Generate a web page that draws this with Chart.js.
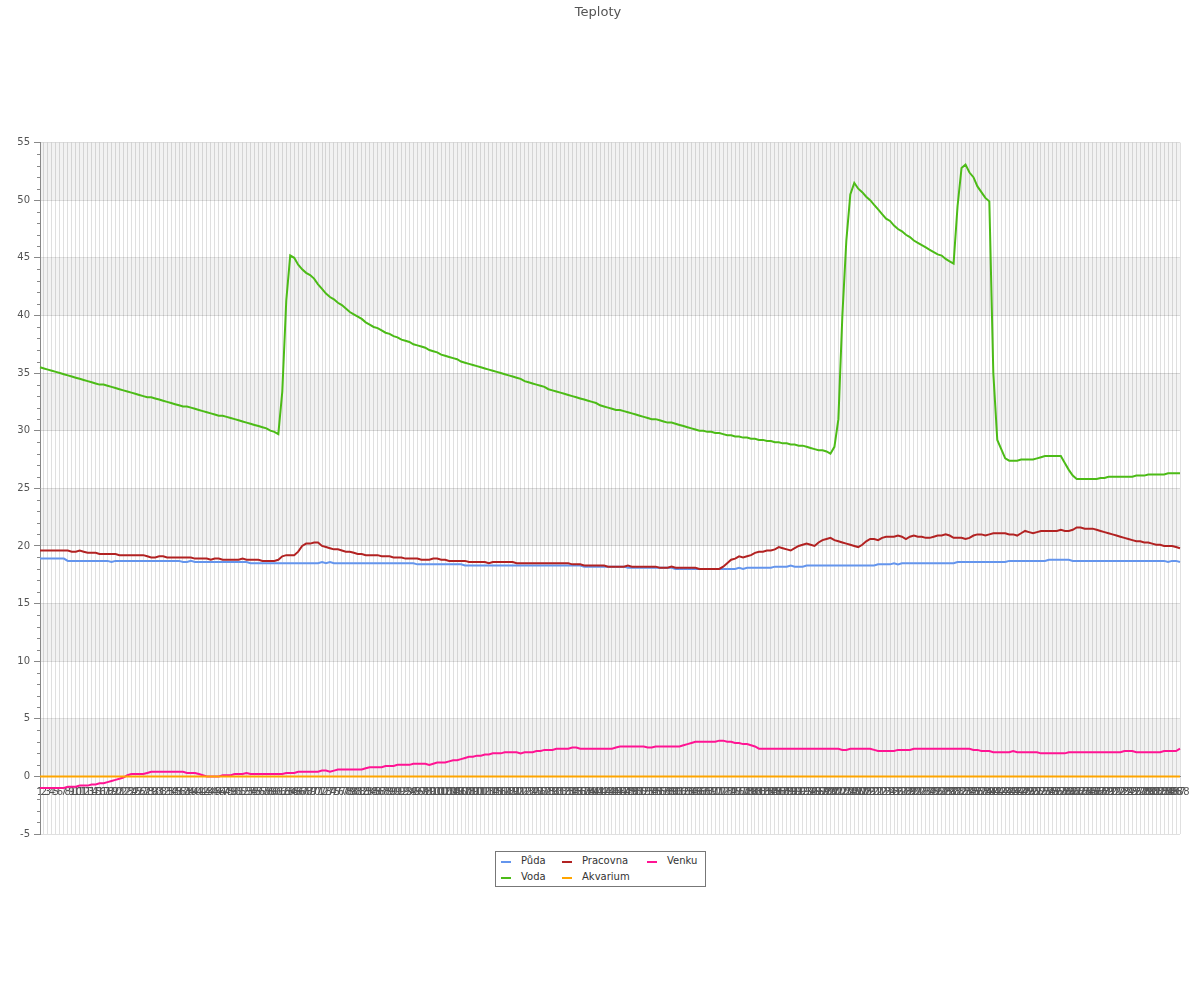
<!DOCTYPE html>
<html>
<head>
<meta charset="utf-8">
<title>Teploty</title>
<script src="https://cdn.jsdelivr.net/npm/chart.js@4.4.1/dist/chart.umd.min.js"></script>
<style>
	body { margin: 0; background: #fff; font-family: "DejaVu Sans", sans-serif; }
	#wrap { position: relative; width: 1200px; height: 1000px; }
	#chart { position: absolute; left: 0; top: 0; }
	#legend {
		position: absolute; left: 495px; top: 851px;
		border: 1px solid #777; background: #fff;
		padding: 1px 8px 1px 5px;
		display: grid; grid-template-columns: 61px 85px auto;
		font-size: 10px; color: #333;
	}
	#legend .item { height: 16px; line-height: 16px; white-space: nowrap; }
	#legend .sw { display: inline-block; width: 10px; height: 2px; margin-right: 10px; vertical-align: middle; position: relative; top: 1px; }
</style>
</head>
<body>
<div id="wrap">
	<canvas id="chart" width="1200" height="1000"></canvas>
	<div id="legend"></div>
</div>
<script>
// x labels: sample numbers 1..288
const labels = Array.from({ length: 288 }, (_, i) => String(i + 1));

const yTicks = [-5, 0, 5, 10, 15, 20, 25, 30, 35, 40, 45, 50, 55];

const puda = [
	18.9,18.9,18.9,18.9,18.9,18.9,18.9,18.7,18.7,18.7,18.7,18.7,
	18.7,18.7,18.7,18.7,18.7,18.7,18.6,18.7,18.7,18.7,18.7,18.7,
	18.7,18.7,18.7,18.7,18.7,18.7,18.7,18.7,18.7,18.7,18.7,18.7,
	18.6,18.6,18.7,18.6,18.6,18.6,18.6,18.6,18.6,18.6,18.6,18.6,
	18.6,18.6,18.6,18.6,18.6,18.5,18.5,18.5,18.5,18.5,18.5,18.5,
	18.5,18.5,18.5,18.5,18.5,18.5,18.5,18.5,18.5,18.5,18.5,18.6,
	18.5,18.6,18.5,18.5,18.5,18.5,18.5,18.5,18.5,18.5,18.5,18.5,
	18.5,18.5,18.5,18.5,18.5,18.5,18.5,18.5,18.5,18.5,18.5,18.4,
	18.4,18.4,18.4,18.4,18.4,18.4,18.4,18.4,18.4,18.4,18.4,18.3,
	18.3,18.3,18.3,18.3,18.3,18.3,18.3,18.3,18.3,18.3,18.3,18.3,
	18.3,18.3,18.3,18.3,18.3,18.3,18.3,18.3,18.3,18.3,18.3,18.3,
	18.3,18.3,18.3,18.3,18.3,18.2,18.2,18.2,18.2,18.2,18.2,18.2,
	18.2,18.2,18.2,18.2,18.1,18.1,18.1,18.1,18.1,18.1,18.1,18.1,
	18.1,18.1,18.1,18.1,18.0,18.0,18.0,18.0,18.0,18.0,18.0,18.0,
	18.0,18.0,18.0,18.0,18.0,18.0,18.0,18.0,18.1,18.0,18.1,18.1,
	18.1,18.1,18.1,18.1,18.1,18.2,18.2,18.2,18.2,18.3,18.2,18.2,
	18.2,18.3,18.3,18.3,18.3,18.3,18.3,18.3,18.3,18.3,18.3,18.3,
	18.3,18.3,18.3,18.3,18.3,18.3,18.3,18.4,18.4,18.4,18.4,18.5,
	18.4,18.5,18.5,18.5,18.5,18.5,18.5,18.5,18.5,18.5,18.5,18.5,
	18.5,18.5,18.5,18.6,18.6,18.6,18.6,18.6,18.6,18.6,18.6,18.6,
	18.6,18.6,18.6,18.6,18.7,18.7,18.7,18.7,18.7,18.7,18.7,18.7,
	18.7,18.7,18.8,18.8,18.8,18.8,18.8,18.8,18.7,18.7,18.7,18.7,
	18.7,18.7,18.7,18.7,18.7,18.7,18.7,18.7,18.7,18.7,18.7,18.7,
	18.7,18.7,18.7,18.7,18.7,18.7,18.7,18.7,18.6,18.7,18.7,18.6
];

const pracovna = [
	19.6,19.6,19.6,19.6,19.6,19.6,19.6,19.6,19.5,19.5,19.6,19.5,
	19.4,19.4,19.4,19.3,19.3,19.3,19.3,19.3,19.2,19.2,19.2,19.2,
	19.2,19.2,19.2,19.1,19.0,19.0,19.1,19.1,19.0,19.0,19.0,19.0,
	19.0,19.0,19.0,18.9,18.9,18.9,18.9,18.8,18.9,18.9,18.8,18.8,
	18.8,18.8,18.8,18.9,18.8,18.8,18.8,18.8,18.7,18.7,18.7,18.7,
	18.8,19.1,19.2,19.2,19.2,19.5,20.0,20.2,20.2,20.3,20.3,20.0,
	19.9,19.8,19.7,19.7,19.6,19.5,19.5,19.4,19.3,19.3,19.2,19.2,
	19.2,19.2,19.1,19.1,19.1,19.0,19.0,19.0,18.9,18.9,18.9,18.9,
	18.8,18.8,18.8,18.9,18.9,18.8,18.8,18.7,18.7,18.7,18.7,18.7,
	18.6,18.6,18.6,18.6,18.6,18.5,18.6,18.6,18.6,18.6,18.6,18.6,
	18.5,18.5,18.5,18.5,18.5,18.5,18.5,18.5,18.5,18.5,18.5,18.5,
	18.5,18.5,18.4,18.4,18.4,18.3,18.3,18.3,18.3,18.3,18.3,18.2,
	18.2,18.2,18.2,18.2,18.3,18.2,18.2,18.2,18.2,18.2,18.2,18.2,
	18.1,18.1,18.1,18.2,18.1,18.1,18.1,18.1,18.1,18.1,18.0,18.0,
	18.0,18.0,18.0,18.0,18.2,18.5,18.8,18.9,19.1,19.0,19.1,19.2,
	19.4,19.5,19.5,19.6,19.6,19.7,19.9,19.8,19.7,19.6,19.8,20.0,
	20.1,20.2,20.1,20.0,20.3,20.5,20.6,20.7,20.5,20.4,20.3,20.2,
	20.1,20.0,19.9,20.1,20.4,20.6,20.6,20.5,20.7,20.8,20.8,20.8,
	20.9,20.8,20.6,20.8,20.9,20.8,20.8,20.7,20.7,20.8,20.9,20.9,
	21.0,20.9,20.7,20.7,20.7,20.6,20.7,20.9,21.0,21.0,20.9,21.0,
	21.1,21.1,21.1,21.1,21.0,21.0,20.9,21.1,21.3,21.2,21.1,21.2,
	21.3,21.3,21.3,21.3,21.3,21.4,21.3,21.3,21.4,21.6,21.6,21.5,
	21.5,21.5,21.4,21.3,21.2,21.1,21.0,20.9,20.8,20.7,20.6,20.5,
	20.4,20.4,20.3,20.3,20.2,20.1,20.1,20.0,20.0,20.0,19.9,19.8
];

const venku = [
	-1.0,-1.0,-1.0,-1.0,-1.0,-1.0,-1.0,-0.9,-0.9,-0.9,-0.8,-0.8,
	-0.8,-0.7,-0.7,-0.6,-0.6,-0.5,-0.4,-0.3,-0.2,-0.1,0.1,0.2,
	0.2,0.2,0.2,0.3,0.4,0.4,0.4,0.4,0.4,0.4,0.4,0.4,
	0.4,0.3,0.3,0.3,0.2,0.1,0.0,0.0,0.0,0.0,0.1,0.1,
	0.1,0.2,0.2,0.2,0.3,0.2,0.2,0.2,0.2,0.2,0.2,0.2,
	0.2,0.2,0.3,0.3,0.3,0.4,0.4,0.4,0.4,0.4,0.4,0.5,
	0.5,0.4,0.5,0.6,0.6,0.6,0.6,0.6,0.6,0.6,0.7,0.8,
	0.8,0.8,0.8,0.9,0.9,0.9,1.0,1.0,1.0,1.0,1.1,1.1,
	1.1,1.1,1.0,1.1,1.2,1.2,1.2,1.3,1.4,1.4,1.5,1.6,
	1.7,1.7,1.8,1.8,1.9,1.9,2.0,2.0,2.0,2.1,2.1,2.1,
	2.1,2.0,2.1,2.1,2.1,2.2,2.2,2.3,2.3,2.3,2.4,2.4,
	2.4,2.4,2.5,2.5,2.4,2.4,2.4,2.4,2.4,2.4,2.4,2.4,
	2.4,2.5,2.6,2.6,2.6,2.6,2.6,2.6,2.6,2.5,2.5,2.6,
	2.6,2.6,2.6,2.6,2.6,2.6,2.7,2.8,2.9,3.0,3.0,3.0,
	3.0,3.0,3.0,3.1,3.1,3.0,3.0,2.9,2.9,2.8,2.8,2.7,
	2.6,2.4,2.4,2.4,2.4,2.4,2.4,2.4,2.4,2.4,2.4,2.4,
	2.4,2.4,2.4,2.4,2.4,2.4,2.4,2.4,2.4,2.4,2.3,2.3,
	2.4,2.4,2.4,2.4,2.4,2.4,2.3,2.2,2.2,2.2,2.2,2.2,
	2.3,2.3,2.3,2.3,2.4,2.4,2.4,2.4,2.4,2.4,2.4,2.4,
	2.4,2.4,2.4,2.4,2.4,2.4,2.4,2.3,2.3,2.2,2.2,2.2,
	2.1,2.1,2.1,2.1,2.1,2.2,2.1,2.1,2.1,2.1,2.1,2.1,
	2.0,2.0,2.0,2.0,2.0,2.0,2.0,2.1,2.1,2.1,2.1,2.1,
	2.1,2.1,2.1,2.1,2.1,2.1,2.1,2.1,2.1,2.2,2.2,2.2,
	2.1,2.1,2.1,2.1,2.1,2.1,2.1,2.2,2.2,2.2,2.2,2.4
];

const voda = [
	35.5,35.4,35.3,35.2,35.1,35.0,34.9,34.8,34.7,34.6,34.5,34.4,
	34.3,34.2,34.1,34.0,34.0,33.9,33.8,33.7,33.6,33.5,33.4,33.3,
	33.2,33.1,33.0,32.9,32.9,32.8,32.7,32.6,32.5,32.4,32.3,32.2,
	32.1,32.1,32.0,31.9,31.8,31.7,31.6,31.5,31.4,31.3,31.3,31.2,
	31.1,31.0,30.9,30.8,30.7,30.6,30.5,30.4,30.3,30.2,30.0,29.9,
	29.7,33.4,41.3,45.2,45.0,44.4,44.0,43.7,43.5,43.2,42.7,42.3,
	41.9,41.6,41.4,41.1,40.9,40.6,40.3,40.1,39.9,39.7,39.4,39.2,
	39.0,38.9,38.7,38.5,38.4,38.2,38.1,37.9,37.8,37.7,37.5,37.4,
	37.3,37.2,37.0,36.9,36.8,36.6,36.5,36.4,36.3,36.2,36.0,35.9,
	35.8,35.7,35.6,35.5,35.4,35.3,35.2,35.1,35.0,34.9,34.8,34.7,
	34.6,34.5,34.3,34.2,34.1,34.0,33.9,33.8,33.6,33.5,33.4,33.3,
	33.2,33.1,33.0,32.9,32.8,32.7,32.6,32.5,32.4,32.2,32.1,32.0,
	31.9,31.8,31.8,31.7,31.6,31.5,31.4,31.3,31.2,31.1,31.0,31.0,
	30.9,30.8,30.7,30.7,30.6,30.5,30.4,30.3,30.2,30.1,30.0,30.0,
	29.9,29.9,29.8,29.8,29.7,29.6,29.6,29.5,29.5,29.4,29.4,29.3,
	29.3,29.2,29.2,29.1,29.1,29.0,29.0,28.9,28.9,28.8,28.8,28.7,
	28.7,28.6,28.5,28.4,28.3,28.3,28.2,28.0,28.6,31.0,40.0,46.5,
	50.5,51.5,51.0,50.7,50.3,50.0,49.6,49.2,48.8,48.4,48.2,47.8,
	47.5,47.3,47.0,46.8,46.5,46.3,46.1,45.9,45.7,45.5,45.3,45.2,
	44.9,44.7,44.5,49.5,52.8,53.1,52.4,52.0,51.2,50.7,50.2,49.9,
	35.0,29.2,28.4,27.6,27.4,27.4,27.4,27.5,27.5,27.5,27.5,27.6,
	27.7,27.8,27.8,27.8,27.8,27.8,27.2,26.6,26.1,25.8,25.8,25.8,
	25.8,25.8,25.8,25.9,25.9,26.0,26.0,26.0,26.0,26.0,26.0,26.0,
	26.1,26.1,26.1,26.2,26.2,26.2,26.2,26.2,26.3,26.3,26.3,26.3
];

const akvarium = [
	0,0,0,0,0,0,0,0,0,0,0,0, 0,0,0,0,0,0,0,0,0,0,0,0,
	0,0,0,0,0,0,0,0,0,0,0,0, 0,0,0,0,0,0,0,0,0,0,0,0,
	0,0,0,0,0,0,0,0,0,0,0,0, 0,0,0,0,0,0,0,0,0,0,0,0,
	0,0,0,0,0,0,0,0,0,0,0,0, 0,0,0,0,0,0,0,0,0,0,0,0,
	0,0,0,0,0,0,0,0,0,0,0,0, 0,0,0,0,0,0,0,0,0,0,0,0,
	0,0,0,0,0,0,0,0,0,0,0,0, 0,0,0,0,0,0,0,0,0,0,0,0,
	0,0,0,0,0,0,0,0,0,0,0,0, 0,0,0,0,0,0,0,0,0,0,0,0,
	0,0,0,0,0,0,0,0,0,0,0,0, 0,0,0,0,0,0,0,0,0,0,0,0,
	0,0,0,0,0,0,0,0,0,0,0,0, 0,0,0,0,0,0,0,0,0,0,0,0,
	0,0,0,0,0,0,0,0,0,0,0,0, 0,0,0,0,0,0,0,0,0,0,0,0,
	0,0,0,0,0,0,0,0,0,0,0,0, 0,0,0,0,0,0,0,0,0,0,0,0,
	0,0,0,0,0,0,0,0,0,0,0,0, 0,0,0,0,0,0,0,0,0,0,0,0
];

const seriesNames = ["Půda", "Pracovna", "Venku", "Voda", "Akvarium"];
const seriesColors = ["#6495ed", "#b22222", "#ff1493", "#4cbb17", "#ffa500"];
const seriesValues = [puda, pracovna, venku, voda, akvarium];

// grey bands behind every other 5 degree step
const bandsPlugin = {
	id: "bands",
	beforeDraw(chart) {
		const { ctx, chartArea, scales } = chart;
		const y = scales.y;
		ctx.save();
		ctx.fillStyle = "#f2f2f2";
		for (let v = 0; v < 55; v += 10) {
			const top = y.getPixelForValue(v + 5);
			const bottom = y.getPixelForValue(v);
			ctx.fillRect(chartArea.left, top, chartArea.right - chartArea.left, bottom - top);
		}
		ctx.restore();
	},
	afterDraw(chart) {
		// short minor ticks on the y axis
		const { ctx, chartArea, scales } = chart;
		const y = scales.y;
		ctx.save();
		ctx.strokeStyle = "#888";
		ctx.lineWidth = 1;
		ctx.beginPath();
		for (let v = -5; v <= 55; v++) {
			if (v % 5 === 0) continue;
			const py = Math.round(y.getPixelForValue(v)) + 0.5;
			ctx.moveTo(chartArea.left - 3, py);
			ctx.lineTo(chartArea.left, py);
		}
		ctx.stroke();
		ctx.restore();
	}
};

const datasets = seriesNames.map((name, i) => ({
	label: name,
	data: seriesValues[i],
	borderColor: seriesColors[i],
	backgroundColor: seriesColors[i],
	borderWidth: 2,
	pointRadius: 0,
	tension: 0,
	fill: false,
	order: seriesNames.length - i
}));

const chart = new Chart(document.getElementById("chart"), {
	type: "line",
	data: { labels: labels, datasets: datasets },
	options: {
		responsive: false,
		animation: false,
		layout: { padding: { left: 16, right: 20, top: 0, bottom: 166 } },
		plugins: {
			legend: { display: false },
			tooltip: { enabled: false },
			title: {
				display: true,
				text: "Teploty",
				color: "#545454",
				font: { family: "DejaVu Sans", size: 13, weight: "normal" },
				padding: { top: 5, bottom: 122 }
			}
		},
		scales: {
			x: {
				type: "category",
				position: { y: 0 },
				afterFit(scale) { scale.height = 0; },
				grid: { color: "rgba(0,0,0,0.12)", drawTicks: false },
				border: { color: "#888", width: 1 },
				ticks: {
					autoSkip: false,
					maxRotation: 0,
					minRotation: 0,
					padding: 10,
					color: "#545454",
					font: { family: "DejaVu Sans", size: 10 }
				}
			},
			y: {
				min: -5,
				max: 55,
				afterFit(scale) { scale.width = 24; },
				afterBuildTicks(scale) { scale.ticks = yTicks.map(v => ({ value: v })); },
				grid: { color: "rgba(0,0,0,0.12)", tickColor: "#888", tickLength: 6 },
				border: { color: "#888", width: 1 },
				ticks: {
					padding: 4,
					color: "#545454",
					font: { family: "DejaVu Sans", size: 10 }
				}
			}
		}
	},
	plugins: [bandsPlugin]
});

// legend laid out in three columns, like the original
const legendEl = document.getElementById("legend");
chart.data.datasets.forEach((ds) => {
	const item = document.createElement("div");
	item.className = "item";
	const sw = document.createElement("span");
	sw.className = "sw";
	sw.style.background = ds.borderColor;
	item.appendChild(sw);
	item.appendChild(document.createTextNode(ds.label));
	legendEl.appendChild(item);
});
</script>
</body>
</html>
